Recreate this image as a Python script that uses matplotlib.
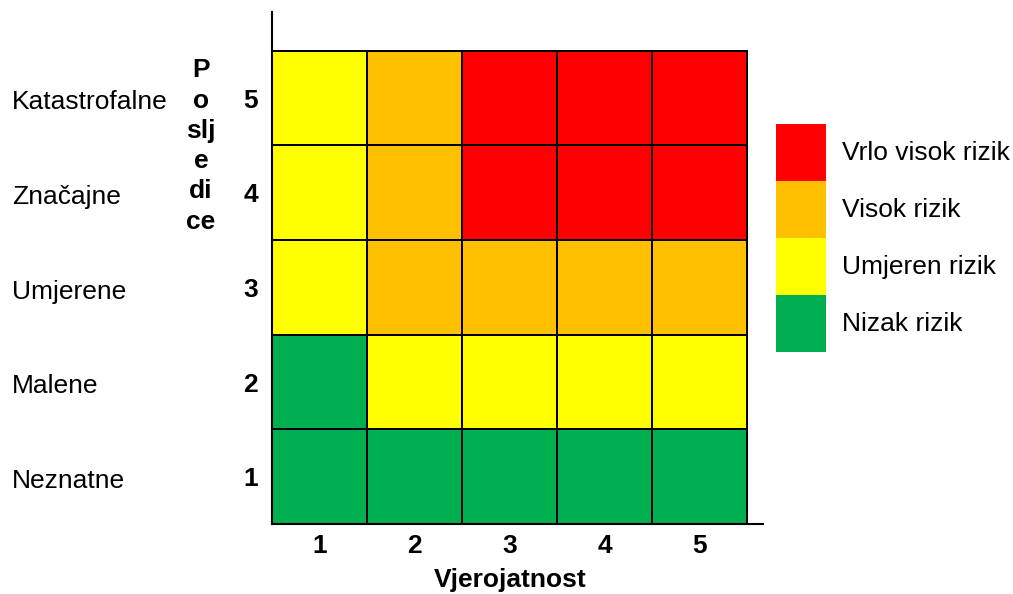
import numpy as np
import matplotlib.pyplot as plt
from matplotlib.colors import ListedColormap
from matplotlib.patches import Patch
from matplotlib import transforms

plt.rcParams['font.family'] = ['Liberation Sans', 'DejaVu Sans']

# Podaci matrice rizika
vjerojatnost = [1, 2, 3, 4, 5]
posljedice = [1, 2, 3, 4, 5]
nazivi_posljedica = ['Neznatne', 'Malene', 'Umjerene', 'Značajne', 'Katastrofalne']
# razina rizika po retku (posljedice 1..5), stupci = vjerojatnost 1..5
# 0 = nizak, 1 = umjeren, 2 = visok, 3 = vrlo visok
razine = [
    [0, 0, 0, 0, 0],
    [0, 1, 1, 1, 1],
    [1, 2, 2, 2, 2],
    [1, 2, 3, 3, 3],
    [1, 2, 3, 3, 3],
]
nazivi_rizika = ['Nizak rizik', 'Umjeren rizik', 'Visok rizik', 'Vrlo visok rizik']
boje = ['#00B050', '#FFFF00', '#FFC000', '#FF0000']

W, H = 1013, 594
fig = plt.figure(figsize=(W / 100, H / 100), dpi=100)
ax = fig.add_axes([272 / W, 1 - 524 / H, (763 - 272) / W, (524 - 12) / H])

cmap = ListedColormap(boje)
x_rubovi = np.arange(len(vjerojatnost) + 1)
y_rubovi = np.arange(len(posljedice) + 1)
ax.pcolormesh(x_rubovi, y_rubovi, np.array(razine), cmap=cmap, vmin=-0.5, vmax=3.5,
              edgecolors='black', linewidth=1.2)

ax.set_xlim(0, 5.168)
ax.set_ylim(0, 5.41)
for s in ['top', 'right']:
    ax.spines[s].set_visible(False)
for s in ['left', 'bottom']:
    ax.spines[s].set_linewidth(1.5)

ax.set_xticks(np.arange(len(vjerojatnost)) + 0.5)
ax.set_xticklabels(vjerojatnost, fontsize=19, fontweight='bold')
ax.set_yticks(np.arange(len(posljedice)) + 0.5)
ax.set_yticklabels(posljedice, fontsize=19, fontweight='bold')
ax.tick_params(axis='both', length=0)
ax.tick_params(axis='x', pad=7.5)
ax.tick_params(axis='y', pad=10)
ax.set_xlabel('Vjerojatnost', fontsize=19, fontweight='bold')
ax.xaxis.set_label_coords(238 / 491, -0.086)

# nazivi posljedica lijevo
trans = transforms.blended_transform_factory(fig.transFigure, ax.transData)
for i, naziv in enumerate(nazivi_posljedica):
    ax.text(12 / W, i + 0.455, naziv, transform=trans, fontsize=19,
            ha='left', va='center')

fig.text(201 / W, 1 - 146 / H, 'P\no\nslj\ne\ndi\nce', fontsize=19,
         fontweight='bold', ha='center', va='center', multialignment='center',
         linespacing=1.33)

# legenda
rucke = [Patch(facecolor=boje[i], edgecolor='none', label=nazivi_rizika[i])
         for i in range(len(boje) - 1, -1, -1)]
fig.legend(handles=rucke, loc='upper left', bbox_to_anchor=(776 / W, 1 - 124 / H),
           frameon=False, fontsize=19, handlelength=1.9, handleheight=2.95,
           labelspacing=0, handletextpad=0.6, borderpad=0, borderaxespad=0)

fig.savefig('out.png', dpi=100)
